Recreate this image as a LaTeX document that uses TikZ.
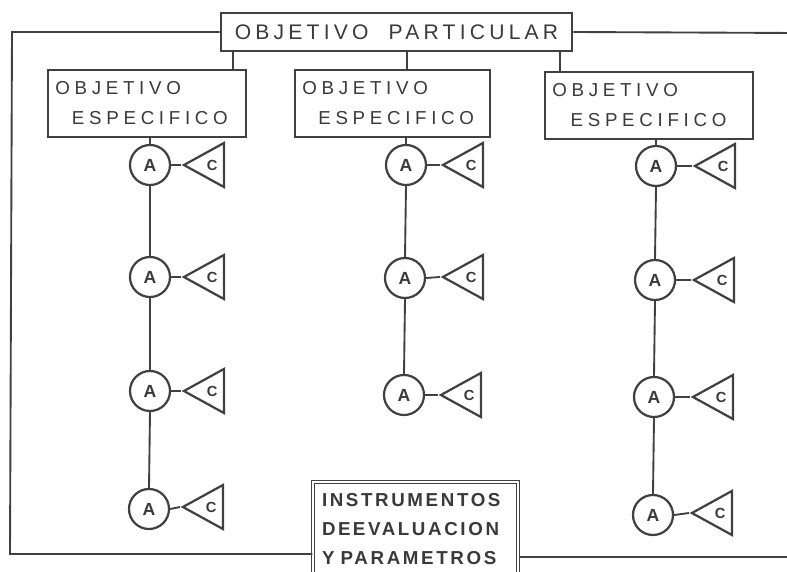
\documentclass[tikz,border=0pt]{standalone}
\usepackage{fontspec}
\setmainfont{Liberation Sans}
\newfontfamily\titlefont[LetterSpace=20]{Liberation Sans}
\newfontfamily\specfont[LetterSpace=25]{Liberation Sans}
\newfontfamily\instfont[LetterSpace=14]{Liberation Sans}
\usetikzlibrary{shapes.geometric}
\definecolor{inkc}{HTML}{404040}
\definecolor{txtc}{HTML}{3A3A3A}
\begin{document}
\begin{tikzpicture}[x=0.03cm,y=-0.03cm,
  wire/.style={draw=inkc, line width=1.6pt},
  bigbox/.style={rectangle, draw=inkc, line width=2.2pt, text=txtc},
  specbox/.style={bigbox, minimum height=2.01cm, inner xsep=0.22cm, inner ysep=0pt, align=left,
    font=\specfont\fontsize{16}{25.6}\selectfont},
  circ/.style={circle, draw=inkc, line width=1.9pt, minimum size=1.2cm, inner sep=0pt,
    text=txtc, font=\bfseries\fontsize{15}{16}\selectfont},
  tri/.style={isosceles triangle, shape border rotate=180, isosceles triangle stretches,
    minimum width=1.32cm, minimum height=1.2cm, draw=inkc, line width=1.9pt, inner sep=0pt,
    text=txtc, font=\bfseries\fontsize{12.5}{14}\selectfont, anchor=apex}]
\useasboundingbox (0,0) rectangle (787,572);
\fill[white] (0,0) rectangle (787,572);
\clip (0,0) rectangle (787,572);

% title box
\node[bigbox, minimum width=10.53cm, minimum height=1.14cm, inner sep=0pt,
  font=\titlefont\fontsize{18}{20}\selectfont] (top) at (396.5,32)
  {OBJETIVO\hspace{0.6cm}PARTICULAR};

% specific objective boxes
\node[specbox, text width=5.50cm] (s1) at (147,103.5) {OBJETIVO\\\hspace*{0.5cm}ESPECIFICO};
\node[specbox, text width=5.41cm] (s2) at (392.5,103.5) {OBJETIVO\\\hspace*{0.48cm}ESPECIFICO};
\node[specbox, text width=5.80cm] (s3) at (649,105.5) {OBJETIVO\\\hspace*{0.55cm}ESPECIFICO};

% instruments box
\node[bigbox, double, line width=0.9pt, double distance=1.3pt, minimum width=6.15cm,
  minimum height=2.82cm, inner xsep=0.27cm, inner ysep=0pt, text width=5.61cm, align=left,
  font=\instfont\bfseries\fontsize{16}{24.75}\selectfont] (bot) at (415.5,529)
  {INSTRUMENTOS\\DE\hspace{0.12em}EVALUACION\\Y PARAMETROS};

% column 1
\node[circ] (a11) at (150,165) {A};
\node[circ] (a12) at (150,277) {A};
\node[circ] (a13) at (150,391) {A};
\node[circ] (a14) at (149,509) {A};
\node[tri] (c11) at (181,165) {C};
\node[tri] (c12) at (181,277) {C};
\node[tri] (c13) at (181,391) {C};
\node[tri] (c14) at (180,507) {C};
% column 2
\node[circ] (a21) at (406,165) {A};
\node[circ] (a22) at (405,278) {A};
\node[circ] (a23) at (404,395) {A};
\node[tri] (c21) at (440,165) {C};
\node[tri] (c22) at (440,277) {C};
\node[tri] (c23) at (438,395) {C};
% column 3
\node[circ] (a31) at (656,166) {A};
\node[circ] (a32) at (655,280) {A};
\node[circ] (a33) at (654,397) {A};
\node[tri] (c31) at (692,166) {C};
\node[tri] (c32) at (691,280) {C};
\node[tri] (c33) at (690,397) {C};
\node[circ] (a34) at (653,515) {A};
\node[tri] (c34) at (689,513) {C};

% frame lines
\coordinate (lt) at (12,32);
\coordinate (lb) at (10,554);
\coordinate (rt) at (795,33);
\coordinate (rb) at (795,557);
\draw[wire] (top.west) -- (lt) -- (lb) -- (lb -| bot.west);
\draw[wire] (top.east) -- (rt);
\draw[wire] (bot.east |- rb) -- (rb);

% title to specific boxes
\coordinate (k1) at (233,0);
\coordinate (k2) at (407,0);
\coordinate (k3) at (560,0);
\draw[wire] (top.south -| k1) -- (s1.north -| k1);
\draw[wire] (top.south -| k2) -- (s2.north -| k2);
\draw[wire] (top.south -| k3) -- (s3.north -| k3);

% specific boxes to first activity
\draw[wire] (s1.south -| a11) -- (a11.north);
\draw[wire] (s2.south -| a21) -- (a21.north);
\draw[wire] (s3.south -| a31) -- (a31.north);

% activity chains
\draw[wire] (a11.south) -- (a12.north);
\draw[wire] (a12.south) -- (a13.north);
\draw[wire] (a13.south) -- (a14.north);
\draw[wire] (a21.south) -- (a22.north);
\draw[wire] (a22.south) -- (a23.north);
\draw[wire] (a31.south) -- (a32.north);
\draw[wire] (a32.south) -- (a33.north);
\draw[wire] (a33.south) -- (a34.north);

% activity to content
\foreach \c/\r in {1/1,1/2,1/3,1/4,2/1,2/2,2/3,3/1,3/2,3/3,3/4}
  \draw[wire] (a\c\r.east) -- (c\c\r.apex);
\end{tikzpicture}
\end{document}
